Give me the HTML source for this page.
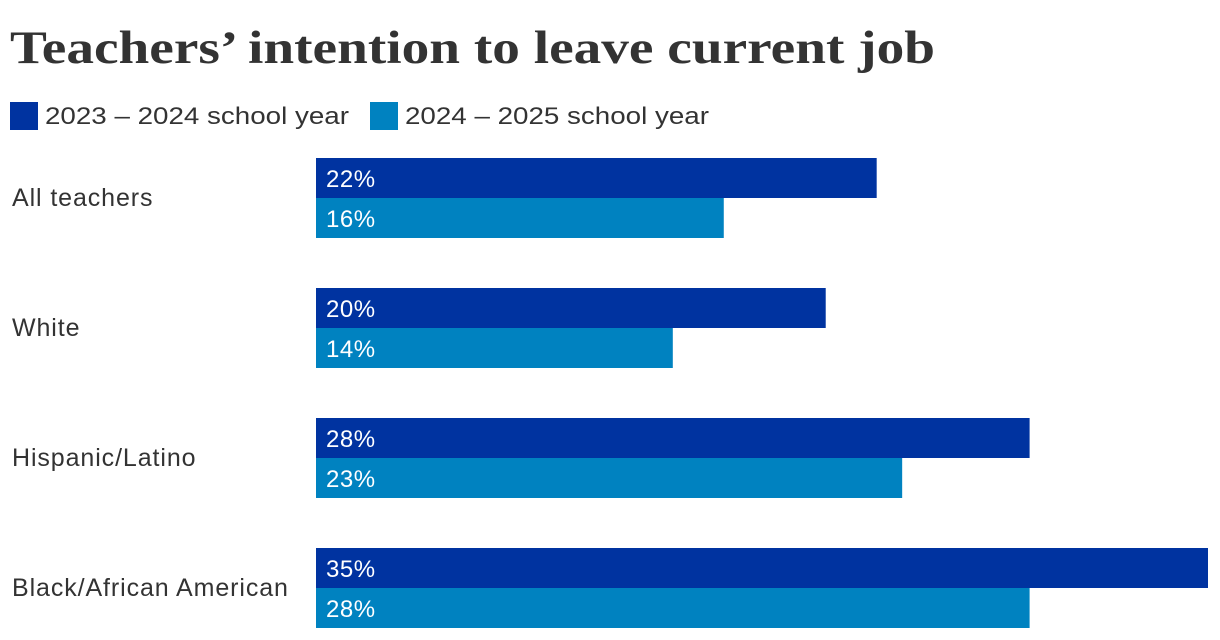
<!DOCTYPE html>
<html><head><meta charset="utf-8"><style>
body{margin:0;background:#fff;}
svg{display:block;font-family:"Liberation Sans",sans-serif;}
</style></head><body>
<svg id="chart" width="1220" height="640">
<text x="10" y="63" font-family="Liberation Serif, serif" font-weight="bold" font-size="47" fill="#333" textLength="925" lengthAdjust="spacingAndGlyphs">Teachers’ intention to leave current job</text>
<g>
<rect x="10" y="102" width="28" height="28" fill="#0033a0"/>
<text x="45" y="124" font-size="24" fill="#333" textLength="304" lengthAdjust="spacingAndGlyphs">2023 – 2024 school year</text>
<rect x="370" y="102" width="28" height="28" fill="#0082c0"/>
<text x="405" y="124" font-size="24" fill="#333" textLength="304" lengthAdjust="spacingAndGlyphs">2024 – 2025 school year</text>
</g>
<g id="bars"></g>
</svg>
<script>
const categories=["All teachers","White","Hispanic/Latino","Black/African American"];
const series2023=[22,20,28,35];
const series2024=[16,14,23,28];
const x0=316, pxPer=892/35;
function xs(v){return v*pxPer;}
function yTop(i){return 158+i*130;}
const g=document.getElementById('bars');
const ns="http://www.w3.org/2000/svg";
categories.forEach((c,i)=>{
  const t=document.createElementNS(ns,'text');
  t.setAttribute('x',12);t.setAttribute('y',yTop(i)+48);
  t.setAttribute('font-size','25');t.setAttribute('fill','#333');
  t.setAttribute('letter-spacing','0.9');
  t.textContent=c;
  
  
  g.appendChild(t);
  [[series2023,'#0033a0',0],[series2024,'#0082c0',40]].forEach(([s,col,off])=>{
    const r=document.createElementNS(ns,'rect');
    r.setAttribute('x',x0);r.setAttribute('y',yTop(i)+off);
    r.setAttribute('width',xs(s[i]));r.setAttribute('height',40);
    r.setAttribute('fill',col);
    
    
    g.appendChild(r);
    const l=document.createElementNS(ns,'text');
    l.setAttribute('x',x0+10);l.setAttribute('y',yTop(i)+off+29);
    l.setAttribute('font-size','24');l.setAttribute('fill','#fff');
    l.setAttribute('letter-spacing','0.5');
    l.textContent=s[i]+'%';
    
    
    g.appendChild(l);
  });
});
</script>
</body></html>
